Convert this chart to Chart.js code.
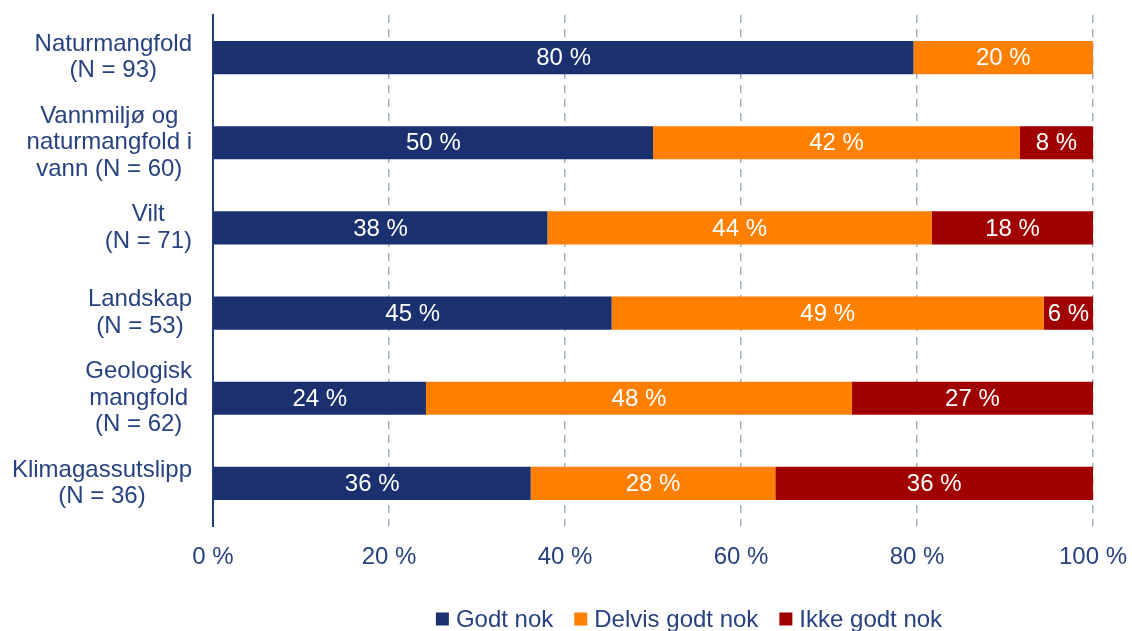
<!DOCTYPE html>
<html lang="no">
<head>
<meta charset="utf-8">
<title>Vurdering per tema</title>
<script src="https://cdn.jsdelivr.net/npm/chart.js@4.4.1/dist/chart.umd.min.js"></script>
<style>
  html, body { margin: 0; padding: 0; background: #fff; }
  #wrap { width: 1132px; height: 631px; }
</style>
</head>
<body>
<div id="wrap"><canvas id="chart"></canvas></div>
<script>
// Tema (hver linje i etiketten som egen streng)
const kategorier = [
  ['Naturmangfold', '(N = 93)'],
  ['Vannmiljø og', 'naturmangfold i', 'vann (N = 60)'],
  ['Vilt', '(N = 71)'],
  ['Landskap', '(N = 53)'],
  ['Geologisk', 'mangfold', '(N = 62)'],
  ['Klimagassutslipp', '(N = 36)']
];

// Andel i prosent
const godtNok       = [79.6, 50.0, 38.0, 45.3, 24.2, 36.1];
const delvisGodtNok = [20.4, 41.7, 43.7, 49.1, 48.4, 27.8];
const ikkeGodtNok   = [null, 8.3, 18.3, 5.6, 27.4, 36.1];

const serieNavn = ['Godt nok', 'Delvis godt nok', 'Ikke godt nok'];
const xTicks = [0, 20, 40, 60, 80, 100];

// Farger og font
const FONT = '"Liberation Sans", Arial, sans-serif';
const tekstFarge = '#27427f';
const aksefarge = '#1f3a7a';
const gridFarge = '#a3aec8';
const farger = ['#1b306e', '#ff8000', '#a00000'];

// Prosentetiketter midt i hvert segment
const verdiEtiketter = {
  id: 'verdiEtiketter',
  afterDatasetsDraw(chart) {
    const ctx = chart.ctx;
    ctx.save();
    ctx.font = '24px ' + FONT;
    ctx.fillStyle = '#ffffff';
    ctx.textAlign = 'center';
    ctx.textBaseline = 'middle';
    chart.data.datasets.forEach((ds, i) => {
      const meta = chart.getDatasetMeta(i);
      meta.data.forEach((el, j) => {
        const v = ds.data[j];
        if (v == null) return;
        ctx.fillText(Math.round(v) + ' %', (el.x + el.base) / 2, el.y + 1);
      });
    });
    ctx.restore();
  }
};

// Kategorietiketter: linjene sentrert mot hverandre, høyrejustert mot aksen
const kategoriEtiketter = {
  id: 'kategoriEtiketter',
  afterDraw(chart) {
    const ctx = chart.ctx;
    const yScale = chart.scales.y;
    const hoyre = chart.chartArea.left - 21;
    const linjeHoyde = 26.5;
    ctx.save();
    ctx.font = '24px ' + FONT;
    ctx.fillStyle = tekstFarge;
    ctx.textAlign = 'center';
    ctx.textBaseline = 'middle';
    kategorier.forEach((linjer, i) => {
      const maks = Math.max(...linjer.map(l => ctx.measureText(l).width));
      const cx = hoyre - maks / 2;
      const cy = yScale.getPixelForValue(i);
      linjer.forEach((l, k) => {
        ctx.fillText(l, cx, cy + (k - (linjer.length - 1) / 2) * linjeHoyde);
      });
    });
    ctx.restore();
  }
};

// Egen tegnforklaring nederst
const tegnforklaring = {
  id: 'tegnforklaring',
  afterDraw(chart) {
    const ctx = chart.ctx;
    const boks = 13, gap = 7, mellomrom = 21;
    const midtX = 689, y = 619;
    ctx.save();
    ctx.font = '24px ' + FONT;
    ctx.textBaseline = 'middle';
    ctx.textAlign = 'left';
    const bredder = serieNavn.map(n => ctx.measureText(n).width);
    const total = bredder.reduce((s, b) => s + boks + gap + b, 0) + mellomrom * (serieNavn.length - 1);
    let x = midtX - total / 2;
    serieNavn.forEach((n, i) => {
      ctx.fillStyle = farger[i];
      ctx.fillRect(x, y - boks / 2, boks, boks);
      ctx.fillStyle = tekstFarge;
      ctx.fillText(n, x + boks + gap, y + 1);
      x += boks + gap + bredder[i] + mellomrom;
    });
    ctx.restore();
  }
};

const datasett = [godtNok, delvisGodtNok, ikkeGodtNok].map((data, i) => ({
  label: serieNavn[i],
  data: data,
  backgroundColor: farger[i],
  borderWidth: 0,
  barPercentage: 0.39,
  categoryPercentage: 1
}));

new Chart(document.getElementById('chart'), {
  type: 'bar',
  data: {
    labels: kategorier.map(k => k.join(' ')),
    datasets: datasett
  },
  options: {
    indexAxis: 'y',
    responsive: true,
    maintainAspectRatio: false,
    animation: false,
    layout: { padding: { top: 15, right: 39, bottom: 0, left: 0 } },
    scales: {
      x: {
        stacked: true,
        min: 0,
        max: 100,
        afterBuildTicks: s => { s.ticks = xTicks.map(v => ({ value: v })); },
        afterFit: s => {
          s.height = 105;
          s.paddingLeft = 0;
          s.paddingRight = 0;
        },
        grid: { color: gridFarge, lineWidth: 1.5, drawTicks: false },
        border: { display: false, dash: [8, 6] },
        ticks: {
          padding: 17,
          color: tekstFarge,
          font: { family: FONT, size: 24 },
          callback: v => v + ' %'
        }
      },
      y: {
        stacked: true,
        grid: { display: false },
        border: { display: true, color: aksefarge, width: 2 },
        ticks: { display: false },
        afterFit: s => { s.width = 213; }
      }
    },
    plugins: {
      legend: { display: false },
      tooltip: { enabled: false }
    }
  },
  plugins: [verdiEtiketter, kategoriEtiketter, tegnforklaring]
});
</script>
</body>
</html>
